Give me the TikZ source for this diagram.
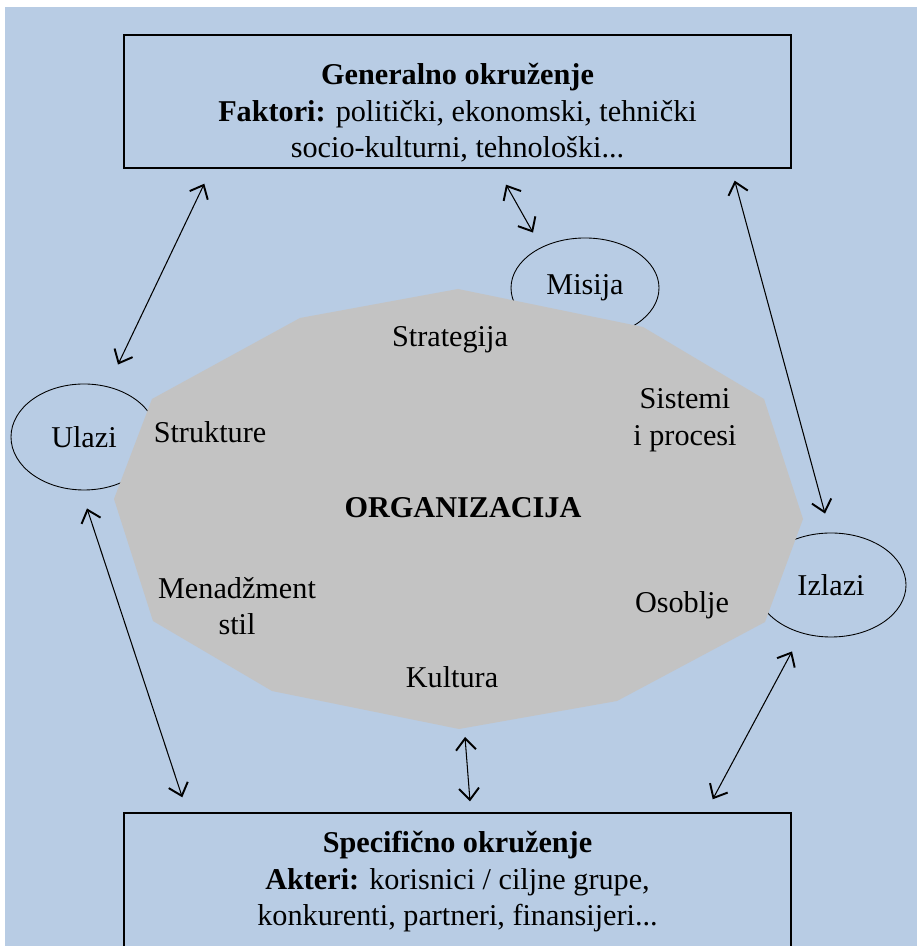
\documentclass[tikz,border=0pt]{standalone}
\usepackage{fontspec}
\setmainfont{Liberation Serif}
\usetikzlibrary{arrows.meta,shapes.geometric}
\definecolor{bgblue}{RGB}{184,204,228}
\definecolor{orggray}{RGB}{195,195,195}

\begin{document}
\begin{tikzpicture}[
  font=\fontsize{17.2}{20.8}\selectfont,
  envbox/.style={draw,line width=0.8pt,minimum width=13.34cm,minimum height=2.66cm,inner sep=0pt},
  oval/.style={draw,ellipse,line width=0.5pt,inner sep=0pt},
  link/.style={{Straight Barb[length=2.3mm,width=4mm,line width=1.1pt]}-{Straight Barb[length=2.3mm,width=4mm,line width=1.1pt]},line width=0.6pt}]
  \clip (0,0) rectangle (18.34,18.92);
  \fill[white] (0,0) rectangle (18.34,18.92);
  \fill[bgblue] (0.1,0) rectangle (18.34,18.78);
  \node[envbox] (gen) at (9.15,16.89) {};
  \node[align=center] (gentxt) at (9.15,16.66) {\textbf{Generalno okruženje}\\\textbf{Faktori:} politički, ekonomski, tehnički\\socio-kulturni, tehnološki...};
  \node[envbox,minimum height=2.76cm,align=center] (spec) at (9.15,1.28) {\textbf{Specifično okruženje}\\\textbf{Akteri:} korisnici / ciljne grupe,\\konkurenti, partneri, finansijeri...};
  \node[oval,minimum width=2.92cm,minimum height=2.12cm] (ulazi) at (1.68,10.18) {Ulazi};
  \node[oval,minimum width=2.96cm,minimum height=2.0cm] (misija) at (11.70,13.16) {Misija};
  \node[oval,minimum width=3.0cm,minimum height=2.08cm] (izlazi) at (16.62,7.22) {Izlazi};
  \fill[orggray] (9.16,13.14) -- (12.86,12.38) -- (15.28,10.94) -- (16.06,8.54) -- (15.30,6.48) -- (12.34,4.90) -- (9.18,4.34) -- (5.44,5.10) -- (3.06,6.50) -- (2.28,8.94) -- (3.04,10.94) -- (6.00,12.56) -- cycle;
  \coordinate (orgbot) at (9.18,4.34);
  \node (strat) at (9.0,12.12) {Strategija};
  \node (strukt) at (4.2,10.28) {Strukture};
  \node[align=center] (sist) at (13.70,10.52) {Sistemi\\i procesi};
  \node (org) at (9.26,8.76) {\textbf{ORGANIZACIJA}};
  \node (osob) at (13.64,6.82) {Osoblje};
  \node[align=center] (men) at (4.74,6.80) {Menadžment\\stil};
  \node (kult) at (9.04,5.38) {Kultura};
  \draw[link] ([shift={(1.62,-0.3)}]gen.south west) -- ([shift={(0.68,0.38)}]ulazi.north);
  \draw[link] ([shift={(0.97,-0.32)}]gen.south) -- ([shift={(-1.04,0.1)}]misija.north);
  \draw[link] ([shift={(-1.14,-0.24)}]gen.south east) -- ([shift={(-0.12,0.38)}]izlazi.north);
  \draw[link] ([shift={(0.06,-0.36)}]ulazi.south) -- ([shift={(1.18,0.3)}]spec.north west);
  \draw[link] ([shift={(0.12,-0.16)}]orgbot) -- ([shift={(0.25,0.22)}]spec.north);
  \draw[link] ([shift={(-0.78,-0.28)}]izlazi.south) -- ([shift={(-1.58,0.26)}]spec.north east);
\end{tikzpicture}
\end{document}
